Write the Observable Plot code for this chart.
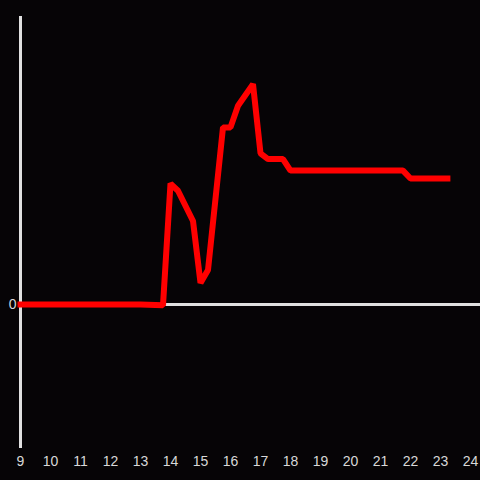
<!DOCTYPE html>
<html>
<head>
<meta charset="utf-8">
<script src="https://cdn.jsdelivr.net/npm/d3@7"></script>
<script src="https://cdn.jsdelivr.net/npm/@observablehq/plot@0.6"></script>
<style>
html, body { margin: 0; padding: 0; background: #060406; }
</style>
</head>
<body>
<div id="chart"></div>
<script>
const hours = [9, 13, 13.75, 14.0, 14.25, 14.75, 15.0, 15.25, 15.75, 16.0, 16.25, 16.75, 17.0, 17.25, 17.75, 18.0, 21.75, 22.0, 23.23];
const values = [0, 0, -0.005, 0.84, 0.79, 0.58, 0.15, 0.24, 1.23, 1.23, 1.38, 1.53, 1.05, 1.01, 1.01, 0.93, 0.93, 0.875, 0.875];
const xTicks = d3.range(9, 25);
const yTicks = [0];

const data = hours.map((h, i) => ({x: h, y: values[i]}));

const chart = Plot.plot({
  width: 480,
  height: 480,
  marginLeft: 20,
  marginRight: 10,
  marginTop: 16,
  marginBottom: 32,
  style: {background: "#060406", color: "#d8d8d8", fontFamily: "Liberation Sans, Arial, sans-serif", fontSize: "14px"},
  x: {domain: [9, 24]},
  y: {domain: [-1, 2]},
  marks: [
    Plot.axisX({ticks: xTicks, tickFormat: d => String(d), tickSize: 0, tickPadding: 8, fontSize: 14, fill: "#d8d8d8", label: null}),
    Plot.axisY({ticks: yTicks, tickFormat: d => String(d), tickSize: 0, tickPadding: 4, fontSize: 14, fill: "#d8d8d8", label: null}),
    Plot.ruleX([9], {y1: -1, y2: 2, stroke: "#e0e0e0", strokeWidth: 3}),
    Plot.ruleY([0], {x1: 9, x2: 24.4, stroke: "#e0e0e0", strokeWidth: 3, clip: false}),
    Plot.line(data, {x: "x", y: "y", stroke: "#ff0000", strokeWidth: 6, strokeLinejoin: "miter", strokeLinecap: "square"})
  ]
});
document.getElementById("chart").appendChild(chart);
</script>
</body>
</html>
